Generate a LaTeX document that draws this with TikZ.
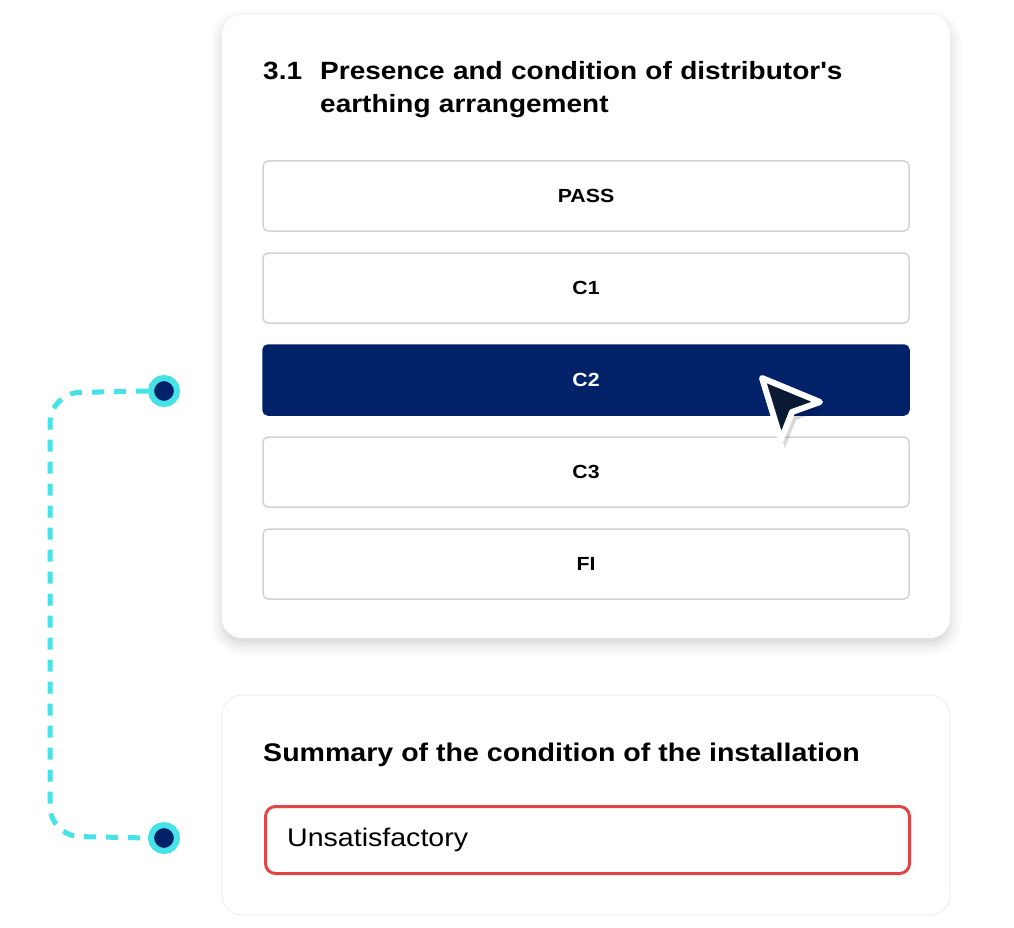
\documentclass[tikz,border=0pt]{standalone}
\usepackage{fontspec}
\defaultfontfeatures[\rmfamily]{Scale=1}
\setmainfont{Liberation Sans}[FakeStretch=1.12]
\usetikzlibrary{shadows.blur}
\definecolor{navy}{HTML}{012169}
\definecolor{cyanc}{HTML}{45E2E8}
\definecolor{bord}{HTML}{D3D3D3}
\definecolor{redb}{HTML}{E04646}
\definecolor{curs}{HTML}{0B1A33}
\begin{document}
\begin{tikzpicture}[x=1pt,y=-1pt,
  card/.style={fill=white,rounded corners=20pt},
  btn/.style={draw=bord,line width=1.5pt,fill=white,rounded corners=5pt,minimum width=646pt,minimum height=70pt,font=\fontsize{19}{20}\selectfont\bfseries,inner sep=0pt},
  dotn/.style={circle,fill=navy,draw=cyanc,line width=6pt,minimum size=26pt,inner sep=0pt},
  conn/.style={cyanc,line width=5pt,dash pattern=on 12pt off 10pt,rounded corners=30pt}]
\useasboundingbox (0,0) rectangle (1014,928);
\fill[card,blur shadow={shadow xshift=0pt,shadow yshift=-6pt,shadow blur radius=12pt,shadow opacity=18}] (222,15) rectangle (950,638);
\draw[card,draw=black!6,line width=1pt] (222,695) rectangle (950,915);
\node[anchor=base west,font=\fontsize{25}{30}\selectfont\bfseries,inner sep=0pt] (num) at (263,80) {3.1};
\node[anchor=base west,font=\fontsize{25}{33}\selectfont\bfseries,align=left,text width=620pt,inner sep=0pt] (title) at (320,80) {Presence and condition of distributor's\\earthing arrangement};
\node[btn] (pass) at (586,196) {PASS};
\node[btn] (c1) at (586,288) {C1};
\node[btn,fill=navy,draw=navy,text=white] (c2) at (586,380) {C2};
\node[btn] (c3) at (586,472) {C3};
\node[btn] (fi) at (586,564) {FI};
\node[anchor=base west,font=\fontsize{25.5}{30}\selectfont\bfseries,inner sep=0pt] (sum) at (263,761) {Summary of the condition of the installation};
\node[draw=redb,line width=3pt,rounded corners=10pt,minimum width=644pt,minimum height=67pt,anchor=west,inner sep=0pt] (inp) at (264,840) {};
\node[anchor=west,font=\fontsize{25.5}{28}\selectfont,inner sep=0pt] (unsat) at (287,840) {Unsatisfactory};
\node[dotn] (d1) at (164,391) {};
\node[dotn] (d2) at (164,838) {};
\draw[conn] (d1.west) -- (50,393) -- (50,836) -- (d2.west);
\fill[black,opacity=0.15] (764,386) -- (822,410) -- (796,420) -- (785,448) -- cycle;
\draw[fill=curs,draw=white,line width=6pt,line join=round] (762,378) -- (820,402) -- (792,412) -- (781,440) -- cycle;
\end{tikzpicture}
\end{document}
